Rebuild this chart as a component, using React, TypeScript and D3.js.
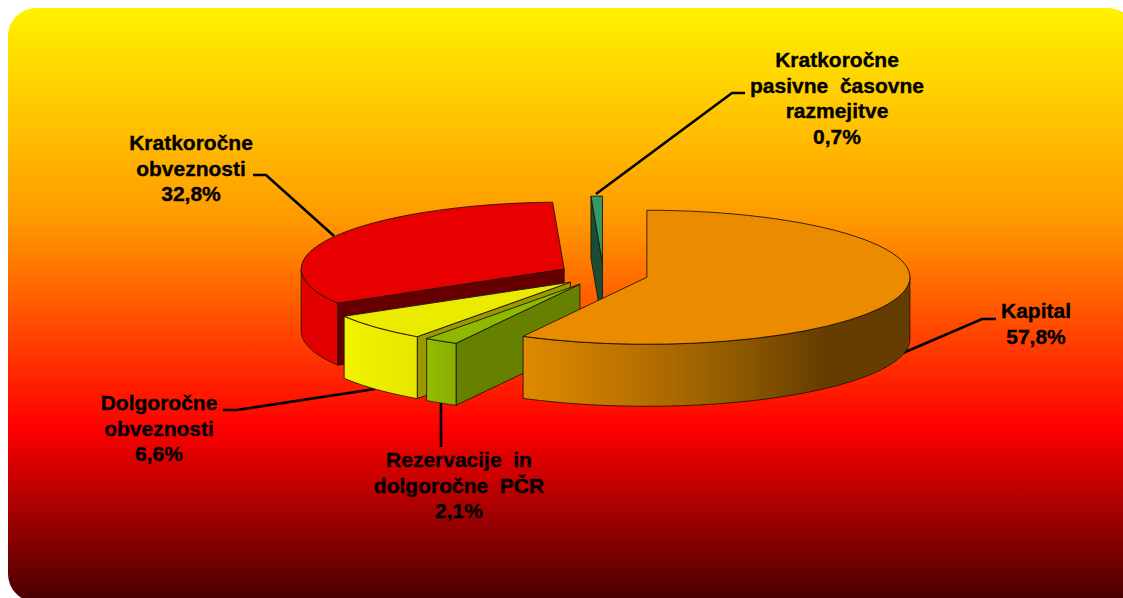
import React from 'react';
import * as d3 from 'd3';

const W = 1123;
const H = 598;

// chart data, clockwise from 12 o'clock
const names = ['Kapital', 'Rezervacije in dolgoročne PČR', 'Dolgoročne obveznosti', 'Kratkoročne obveznosti', 'Kratkoročne pasivne časovne razmejitve'];
const shares = [57.8, 2.1, 6.6, 32.8, 0.7];
const topColors = ['#EB8C00', '#8FB800', '#EBEB00', '#E80000', '#339966'];
const frontColors = ['url(#wallKapital)', 'url(#wallRez)', 'url(#wallDolg)', '#E20000', '#339966'];
const cutColors = ['#663D00', '#668000', '#999900', '#660000', '#1A4D33'];
// back to front
const drawOrder = [4, 3, 2, 1, 0];

const labelLines = [
  ['Kapital', '57,8%'],
  ['Rezervacije  in', 'dolgoročne  PČR', '2,1%'],
  ['Dolgoročne', 'obveznosti', '6,6%'],
  ['Kratkoročne', 'obveznosti', '32,8%'],
  ['Kratkoročne', 'pasivne  časovne', 'razmejitve', '0,7%'],
];
const labelX = [1036, 459, 159, 191, 837];
const labelY = [318, 467, 410, 150, 67];
const leaders: [number, number][][] = [
  [[996, 319], [982, 319], [903, 353]],
  [[441, 447], [441, 403]],
  [[223, 410], [237, 410], [375, 389]],
  [[253, 175], [266, 175], [334, 236]],
  [[745, 93], [732, 93], [596, 194]],
];

// pie geometry
const cx = 603.5;
const cy = 274.5;
const rx = 263;
const ry = 67;
const depth = 62;
const explode = 0.17;
const lineGap = 25.6;

const pie = d3.pie<number>().sort(null).value(d => d);
const arcs = pie(shares);

const topArc = d3.arc<d3.PieArcDatum<number>>().innerRadius(0).outerRadius(1);
const line = d3.line();

const App = () => {
  const slices = drawOrder.map(i => {
    const a = arcs[i];
    const mid = (a.startAngle + a.endAngle) / 2;
    const sx = cx + Math.sin(mid) * rx * explode;
    const sy = cy - Math.cos(mid) * ry * explode;
    const px = (t: number): [number, number] => [sx + Math.sin(t) * rx, sy - Math.cos(t) * ry];

    // cut face along the start edge, only seen when it turns to the viewer
    const s = px(a.startAngle);
    const cut = Math.sin(a.startAngle) < -1e-6
      ? line([s, [sx, sy], [sx, sy + depth], [s[0], s[1] + depth], s])
      : null;

    // rounded wall, only the front half of the ellipse
    const from = Math.max(a.startAngle, Math.PI / 2);
    const to = Math.min(a.endAngle, Math.PI * 1.5);
    let wall: string | null = null;
    if (to > from) {
      const ts = d3.range(0, 61).map(k => from + (to - from) * k / 60);
      const upper = ts.map(px);
      const lower = upper.map(p => [p[0], p[1] + depth] as [number, number]).reverse();
      wall = line([...upper, ...lower, upper[0]]);
    }
    return { i, a, sx, sy, cut, wall };
  });

  return (
    <svg width={W} height={H} style={{ position: 'absolute', left: 0, top: 0, display: 'block' }}>
      <defs>
        <linearGradient id="bg" x1="0" y1="8" x2="0" y2="598" gradientUnits="userSpaceOnUse">
          <stop offset="0" stopColor="#FFF200" />
          <stop offset="0.36" stopColor="#FF9900" />
          <stop offset="0.71" stopColor="#FF0000" />
          <stop offset="1" stopColor="#4A0000" />
        </linearGradient>
        <linearGradient id="wallKapital" x1="523" y1="0" x2="910" y2="0" gradientUnits="userSpaceOnUse">
          <stop offset="0" stopColor="#E08A00" />
          <stop offset="0.3" stopColor="#B87000" />
          <stop offset="0.55" stopColor="#8F5A00" />
          <stop offset="0.78" stopColor="#663D00" />
          <stop offset="1" stopColor="#663D00" />
        </linearGradient>
        <linearGradient id="wallRez" x1="427" y1="0" x2="456" y2="0" gradientUnits="userSpaceOnUse">
          <stop offset="0" stopColor="#94BD00" />
          <stop offset="1" stopColor="#87AD00" />
        </linearGradient>
        <linearGradient id="wallDolg" x1="344" y1="0" x2="417" y2="0" gradientUnits="userSpaceOnUse">
          <stop offset="0" stopColor="#F2F200" />
          <stop offset="1" stopColor="#E6E600" />
        </linearGradient>
      </defs>

      <rect x={8} y={8} width={1128} height={594} rx={28} ry={28} fill="url(#bg)" />

      <g fill="none" stroke="#000" strokeWidth={2.6}>
        {leaders.map((pts, i) => <path key={i} d={line(pts) ?? ''} />)}
      </g>

      {slices.map(({ i, a, sx, sy, cut, wall }) => (
        <g key={names[i]} stroke="#1a1200" strokeOpacity={0.85} strokeWidth={1} strokeLinejoin="round">
          {cut && <path d={cut} fill={cutColors[i]} />}
          {wall && <path d={wall} fill={frontColors[i]} />}
          <path
            d={topArc(a) ?? ''}
            transform={`translate(${sx},${sy}) scale(${rx},${ry})`}
            fill={topColors[i]}
            vectorEffect="non-scaling-stroke"
          />
        </g>
      ))}

      <g fontFamily="'Liberation Sans', Arial, sans-serif" fontWeight="bold" fontSize={21} fill="#000" stroke="#000" strokeWidth={0.35} textAnchor="middle">
        {labelLines.map((lines, i) => (
          <text key={i} style={{ whiteSpace: 'pre' }}>
            {lines.map((t, k) => (
              <tspan key={k} x={labelX[i]} y={labelY[i] + k * lineGap}>{t}</tspan>
            ))}
          </text>
        ))}
      </g>
    </svg>
  );
};

export default App;
